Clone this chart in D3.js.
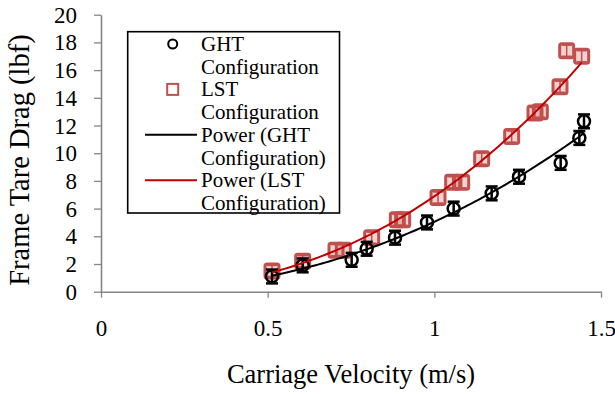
<!DOCTYPE html>
<html>
<head>
<meta charset="utf-8">
<script src="https://cdn.jsdelivr.net/npm/d3@7"></script>
<style>
  html, body { margin: 0; padding: 0; background: #fff; }
  svg { display: block; }
  svg text { font-family: "Liberation Serif", "Times New Roman", serif; }
</style>
</head>
<body>
<svg id="chart" width="615" height="394"></svg>
<script>
// Carriage velocity (m/s) and frame tare drag (lbf) for the two configurations
const ghtVelocity = [0.513, 0.605, 0.752, 0.797, 0.882, 0.978, 1.058, 1.172, 1.254, 1.379, 1.435, 1.449];
const ghtDrag     = [1.1, 1.9, 2.3, 3.1, 3.9, 5.0, 6.0, 7.1, 8.3, 9.3, 11.1, 12.3];
const ghtError    = [0.5, 0.5, 0.5, 0.5, 0.5, 0.5, 0.5, 0.5, 0.5, 0.5, 0.5, 0.5];

const lstVelocity = [0.513, 0.605, 0.705, 0.727, 0.812, 0.889, 0.905, 1.011, 1.055, 1.082, 1.142, 1.232, 1.302, 1.318, 1.377, 1.397, 1.442];
const lstDrag     = [1.5, 2.2, 3.0, 3.0, 3.9, 5.2, 5.2, 6.8, 7.9, 7.9, 9.6, 11.2, 12.9, 13.0, 14.8, 17.4, 17.0];
const lstError    = [0.4, 0.4, 0.4, 0.4, 0.4, 0.4, 0.4, 0.4, 0.4, 0.4, 0.4, 0.4, 0.4, 0.4, 0.4, 0.4, 0.4];

const xTicks = [0, 0.5, 1, 1.5];
const xTickLabels = ["0", "0.5", "1", "1.5"];
const yTicks = [0, 2, 4, 6, 8, 10, 12, 14, 16, 18, 20];

const legendLabels = [
  ["GHT", "Configuration"],
  ["LST", "Configuration"],
  ["Power (GHT", "Configuration)"],
  ["Power (LST", "Configuration)"]
];

const FONT = "Liberation Serif";
const BLACK = "#000000";
const LST_RED = "#c0504d";
const FIT_RED = "#c00000";
const AXIS_GREY = "#868686";

const svg = d3.select("#chart");

const x = d3.scaleLinear().domain([0, 1.5]).range([101, 601]);
const y = d3.scaleLinear().domain([0, 20]).range([291.7, 14.7]);

// Axes
const xAxis = d3.axisBottom(x).tickValues(xTicks).tickFormat((d, i) => xTickLabels[i]).tickSize(6).tickSizeOuter(0);
const yAxis = d3.axisLeft(y).tickValues(yTicks).tickFormat(d3.format("d")).tickSize(7).tickSizeOuter(0);

const gx = svg.append("g").attr("transform", `translate(0,${y(0)})`).call(xAxis)
  .attr("font-family", FONT);
gx.select(".domain").attr("stroke", AXIS_GREY).attr("stroke-width", 1.6);
gx.selectAll(".tick line").attr("stroke", AXIS_GREY).attr("stroke-width", 1.3);
gx.selectAll(".tick text").attr("y", 44).attr("dy", 0)
  .attr("font-size", 23).attr("fill", "#000")
  .attr("font-family", FONT);

const gy = svg.append("g").attr("transform", `translate(${x(0)},0)`).call(yAxis)
  .attr("font-family", FONT);
gy.select(".domain").attr("stroke", AXIS_GREY).attr("stroke-width", 1.6);
gy.selectAll(".tick line").attr("stroke", AXIS_GREY).attr("stroke-width", 1.3);
gy.selectAll(".tick text").attr("x", -24).attr("dy", "0.33em")
  .attr("font-size", 23).attr("fill", "#000")
  .attr("font-family", FONT);

// Axis titles
svg.append("text")
  .attr("x", 351).attr("y", 383)
  .attr("text-anchor", "middle")
  .attr("font-family", FONT)
  .attr("font-size", 26.5)
  .text("Carriage Velocity (m/s)");

svg.append("text")
  .attr("transform", "translate(29,160) rotate(-90)")
  .attr("text-anchor", "middle")
  .attr("font-family", FONT)
  .attr("font-size", 28.5)
  .text("Frame Tare Drag (lbf)");

// Power trendline, least squares in log-log space
function powerFit(xs, ys) {
  const lx = xs.map(Math.log), ly = ys.map(Math.log);
  const mx = d3.mean(lx), my = d3.mean(ly);
  const b = d3.sum(lx, (v, i) => (v - mx) * (ly[i] - my)) / d3.sum(lx, v => (v - mx) * (v - mx));
  const a = Math.exp(my - b * mx);
  const x0 = d3.min(xs), x1 = d3.max(xs);
  return d3.range(0, 101).map(i => {
    const v = x0 + (x1 - x0) * i / 100;
    return [v, a * Math.pow(v, b)];
  });
}

const line = d3.line().x(d => x(d[0])).y(d => y(d[1]));

const plot = svg.append("g");

// Error bars: vertical whisker plus two caps
function errorBars(g, data, color, capHalf, width) {
  g.selectAll("line.bar").data(data).join("line").attr("class", "bar")
    .attr("x1", d => x(d.v)).attr("x2", d => x(d.v))
    .attr("y1", d => y(d.d - d.e)).attr("y2", d => y(d.d + d.e))
    .attr("stroke", color).attr("stroke-width", width);
  g.selectAll("line.capt").data(data).join("line").attr("class", "capt")
    .attr("x1", d => x(d.v) - capHalf).attr("x2", d => x(d.v) + capHalf)
    .attr("y1", d => y(d.d + d.e)).attr("y2", d => y(d.d + d.e))
    .attr("stroke", color).attr("stroke-width", width);
  g.selectAll("line.capb").data(data).join("line").attr("class", "capb")
    .attr("x1", d => x(d.v) - capHalf).attr("x2", d => x(d.v) + capHalf)
    .attr("y1", d => y(d.d - d.e)).attr("y2", d => y(d.d - d.e))
    .attr("stroke", color).attr("stroke-width", width);
}

// LST squares
const lstData = lstVelocity.map((v, i) => ({ v, d: lstDrag[i], e: lstError[i] }));
const lstG = plot.append("g");
errorBars(lstG, lstData, LST_RED, 5, 1.5);
lstG.selectAll("rect").data(lstData).join("rect")
  .attr("x", d => x(d.v) - 7).attr("y", d => y(d.d) - 7)
  .attr("width", 14).attr("height", 14).attr("rx", 2)
  .attr("fill", LST_RED).attr("fill-opacity", 0.25)
  .attr("stroke", LST_RED).attr("stroke-width", 3);

// GHT circles
const ghtData = ghtVelocity.map((v, i) => ({ v, d: ghtDrag[i], e: ghtError[i] }));
const ghtG = plot.append("g");
errorBars(ghtG, ghtData, BLACK, 6, 2.5);
ghtG.selectAll("circle").data(ghtData).join("circle")
  .attr("cx", d => x(d.v)).attr("cy", d => y(d.d)).attr("r", 6)
  .attr("fill", "none").attr("stroke", BLACK).attr("stroke-width", 2.5);

// Trendlines
plot.append("path").datum(powerFit(ghtVelocity, ghtDrag))
  .attr("d", line).attr("fill", "none").attr("stroke", BLACK).attr("stroke-width", 2);
plot.append("path").datum(powerFit(lstVelocity, lstDrag))
  .attr("d", line).attr("fill", "none").attr("stroke", FIT_RED).attr("stroke-width", 2);

// Legend
const lg = svg.append("g").attr("font-family", FONT);
lg.append("rect").attr("x", 127.7).attr("y", 31.7).attr("width", 211.8).attr("height", 181.3)
  .attr("fill", "#fff").attr("stroke", "#000").attr("stroke-width", 1.6);

const rowStep = 22.7;
const textX = 201;
const firstBase = 51;
legendLabels.forEach((lines, k) => {
  lines.forEach((t, j) => {
    lg.append("text")
      .attr("x", textX).attr("y", firstBase + (2 * k + j) * rowStep)
      .attr("font-family", FONT)
      .attr("font-size", 21)
      .text(t);
  });
});
const symY = k => firstBase + 2 * k * rowStep - 7;
lg.append("circle").attr("cx", 172.7).attr("cy", symY(0)).attr("r", 4.5)
  .attr("fill", "none").attr("stroke", BLACK).attr("stroke-width", 2);
lg.append("rect").attr("x", 172.7 - 5.5).attr("y", symY(1) - 5.5).attr("width", 11).attr("height", 11)
  .attr("fill", "none").attr("stroke", LST_RED).attr("stroke-width", 2);
lg.append("line").attr("x1", 145).attr("x2", 197).attr("y1", symY(2)).attr("y2", symY(2))
  .attr("stroke", BLACK).attr("stroke-width", 2);
lg.append("line").attr("x1", 145).attr("x2", 197).attr("y1", symY(3)).attr("y2", symY(3))
  .attr("stroke", FIT_RED).attr("stroke-width", 2);
</script>
</body>
</html>
